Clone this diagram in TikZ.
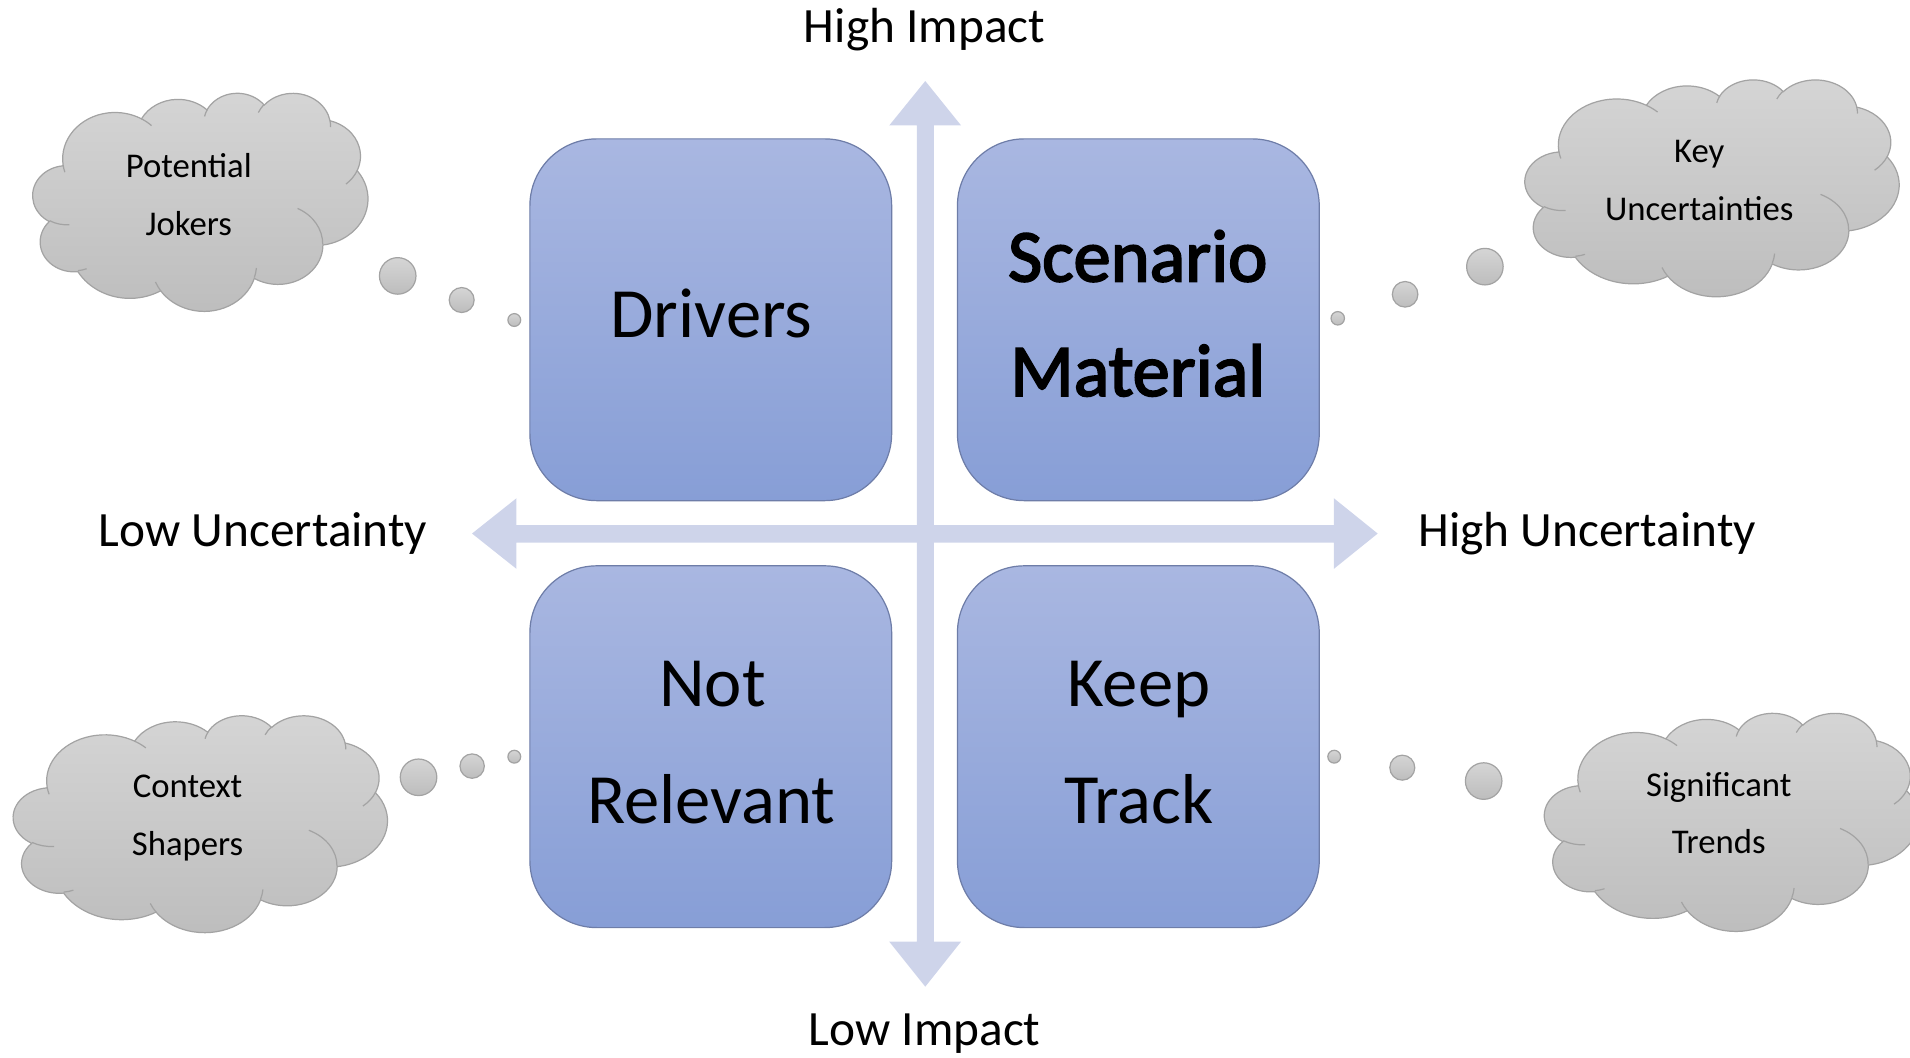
\documentclass[tikz,border=0pt]{standalone}
\usepackage{fontspec}
\setmainfont{Carlito}
\newfontfamily\semibf{Carlito}[FakeBold=2.5]
\definecolor{arrowc}{HTML}{CED4EA}
\definecolor{boxtop}{HTML}{A9B7E1}
\definecolor{boxbot}{HTML}{879ED6}
\definecolor{boxline}{HTML}{6E7DA8}
\definecolor{cloudtop}{HTML}{D5D5D5}
\definecolor{cloudbot}{HTML}{BDBDBD}
\definecolor{cloudline}{HTML}{A3A3A3}
\tikzset{
  quad/.style={rectangle, rounded corners=55pt, minimum width=297pt, minimum height=297pt,
    draw=boxline, line width=1pt, top color=boxtop, bottom color=boxbot, inner sep=0pt},
  lbl/.style={font=\fontsize{40.5}{48}\selectfont, inner sep=0pt, anchor=base},
  boxtxt/.style={font=\fontsize{58}{70}\selectfont, inner sep=0pt, anchor=base},
  boxtxtb/.style={font=\fontsize{61}{70}\semibf, inner sep=0pt, anchor=base},
  cloudtxt/.style={font=\fontsize{28.5}{34}\selectfont, inner sep=0pt, anchor=base},
  cloudfill/.style={draw=cloudline, line width=1pt, top color=cloudtop, bottom color=cloudbot},
  cloudinner/.style={draw=cloudline, line width=1pt},
  bubble/.style={circle, draw=cloudline, line width=1pt, top color=cloudtop, bottom color=cloudbot, inner sep=0pt},
}
\newcommand\cloudat[4]{%
  \pgfmathsetmacro\cwx{#3/432}%
  \pgfmathsetmacro\cwy{#4/432}%
  \begin{scope}[shift={(#1,#2)}, x=\cwx pt, y=-\cwy pt]
    \path[cloudfill] (39.00,143.70)
      arc[start angle=-187.75, end angle=-59.63, x radius=67.53, y radius=91.90]
      arc[start angle=-152.02, end angle=-45.45, x radius=53.33, y radius=72.67]
      arc[start angle=-153.48, end angle=-37.33, x radius=43.65, y radius=59.45]
      arc[start angle=-139.72, end angle=-10.21, x radius=48.57, y radius=65.95]
      arc[start angle=-74.77, end angle=23.22, x radius=53.33, y radius=72.73]
      arc[start angle=-37.53, end angle=81.86, x radius=67.75, y radius=92.20]
      arc[start angle=0.46, end angle=121.98, x radius=57.85, y radius=78.67]
      arc[start angle=16.85, end angle=146.23, x radius=67.52, y radius=92.15]
      arc[start angle=58.98, end angle=150.18, x radius=77.20, y radius=105.43]
      arc[start angle=83.31, end angle=223.09, x radius=43.60, y radius=59.18]
      arc[start angle=120.35, end angle=264.11, x radius=43.45, y radius=59.45]
      -- cycle;
    \draw[cloudinner] (46.93,261.77) arc[start angle=85.54, end angle=120.35, x radius=43.45, y radius=59.45];
    \draw[cloudinner] (69.28,348.99) arc[start angle=68.23, end angle=83.31, x radius=43.60, y radius=59.18];
    \draw[cloudinner] (164.82,392.66) arc[start angle=146.23, end angle=158.47, x radius=67.52, y radius=92.15];
    \draw[cloudinner] (288.27,347.51) arc[start angle=4.73, end angle=16.85, x radius=67.52, y radius=92.15];
    \draw[cloudinner] (341.29,229.54) arc[start angle=-64.03, end angle=0.46, x radius=57.85, y radius=78.67];
    \draw[cloudinner] (418.19,154.61) arc[start angle=23.22, end angle=49.64, x radius=53.33, y radius=72.73];
    \draw[cloudinner] (383.19,55.75) arc[start angle=-10.21, end angle=0.83, x radius=48.57, y radius=65.95];
    \draw[cloudinner] (290.78,39.52) arc[start angle=-156.29, end angle=-139.72, x radius=48.57, y radius=65.95];
    \draw[cloudinner] (221.41,47.20) arc[start angle=-167.72, end angle=-153.48, x radius=43.65, y radius=59.45];
    \draw[cloudinner] (140.06,52.01) arc[start angle=-59.63, end angle=-45.75, x radius=67.53, y radius=91.90];
    \draw[cloudinner] (41.27,157.89) arc[start angle=163.19, end angle=172.25, x radius=67.53, y radius=91.90];
  \end{scope}}
\begin{document}
\begin{tikzpicture}[x=1pt, y=-1pt]
\useasboundingbox (0,0) rectangle (1568,868);
\clip (0,0) rectangle (1568,868);
% axes
\fill[arrowc] (752.7,103) -- (730,103) -- (759.6,66.5) -- (789,103) -- (766.7,103)
  -- (766.7,773) -- (789,773) -- (759.6,810) -- (730,773) -- (752.7,773) -- cycle;
\fill[arrowc] (424,431) -- (424,409) -- (387.5,438) -- (424,467) -- (424,445.5)
  -- (1095,445.5) -- (1095,467) -- (1131,438) -- (1095,409) -- (1095,431) -- cycle;
% quadrants
\node[quad] (q1) at (583.5,262.5) {};
\node[quad] (q2) at (934.5,262.5) {};
\node[quad] (q3) at (583.5,613) {};
\node[quad] (q4) at (934.5,613) {};
\node[boxtxt] (t1) at (584,277) {Drivers};
\node[boxtxtb] (t2a) at (934,231) {Scenario};
\node[boxtxtb] (t2b) at (934,325) {Material};
\node[boxtxt] (t3a) at (585,580) {Not};
\node[boxtxt] (t3b) at (584,676) {Relevant};
\node[boxtxt] (t4a) at (935,580) {Keep};
\node[boxtxt] (t4b) at (935,676) {Track};
% axis labels
\node[lbl] (hi) at (759,35) {High Impact};
\node[lbl] (li) at (759,858) {Low Impact};
\node[lbl] (lu) at (216,449) {Low Uncertainty};
\node[lbl] (hu) at (1303,449) {High Uncertainty};
% clouds
\cloudat{27}{76}{275}{179}
\cloudat{1252}{65}{307}{178}
\cloudat{11}{587}{307}{178}
\cloudat{1268}{585}{307}{179}
\node[cloudtxt] (c1a) at (155,146) {Potential};
\node[cloudtxt] (c1b) at (155,193) {Jokers};
\node[cloudtxt] (c2a) at (1395,133) {Key};
\node[cloudtxt] (c2b) at (1395,181) {Uncertainties};
\node[cloudtxt] (c3a) at (154,655) {Context};
\node[cloudtxt] (c3b) at (154,702) {Shapers};
\node[cloudtxt] (c4a) at (1411,654) {Significant};
\node[cloudtxt] (c4b) at (1411,701) {Trends};
% bubbles
\node[bubble, minimum size=30pt] (b1a) at (326.5,226.5) {};
\node[bubble, minimum size=20.5pt] (b1b) at (379,246.3) {};
\node[bubble, minimum size=10.5pt] (b1c) at (422.2,262.7) {};
\node[bubble, minimum size=30pt] (b2a) at (1219,218.9) {};
\node[bubble, minimum size=21pt] (b2b) at (1153.5,241.6) {};
\node[bubble, minimum size=11pt] (b2c) at (1098.2,261.3) {};
\node[bubble, minimum size=30pt] (b3a) at (343.6,638.1) {};
\node[bubble, minimum size=20pt] (b3b) at (387.6,628.9) {};
\node[bubble, minimum size=10.5pt] (b3c) at (422.2,621.2) {};
\node[bubble, minimum size=30pt] (b4a) at (1218,641.2) {};
\node[bubble, minimum size=20.5pt] (b4b) at (1151.2,630.2) {};
\node[bubble, minimum size=10.5pt] (b4c) at (1095.3,621.2) {};
\end{tikzpicture}
\end{document}
